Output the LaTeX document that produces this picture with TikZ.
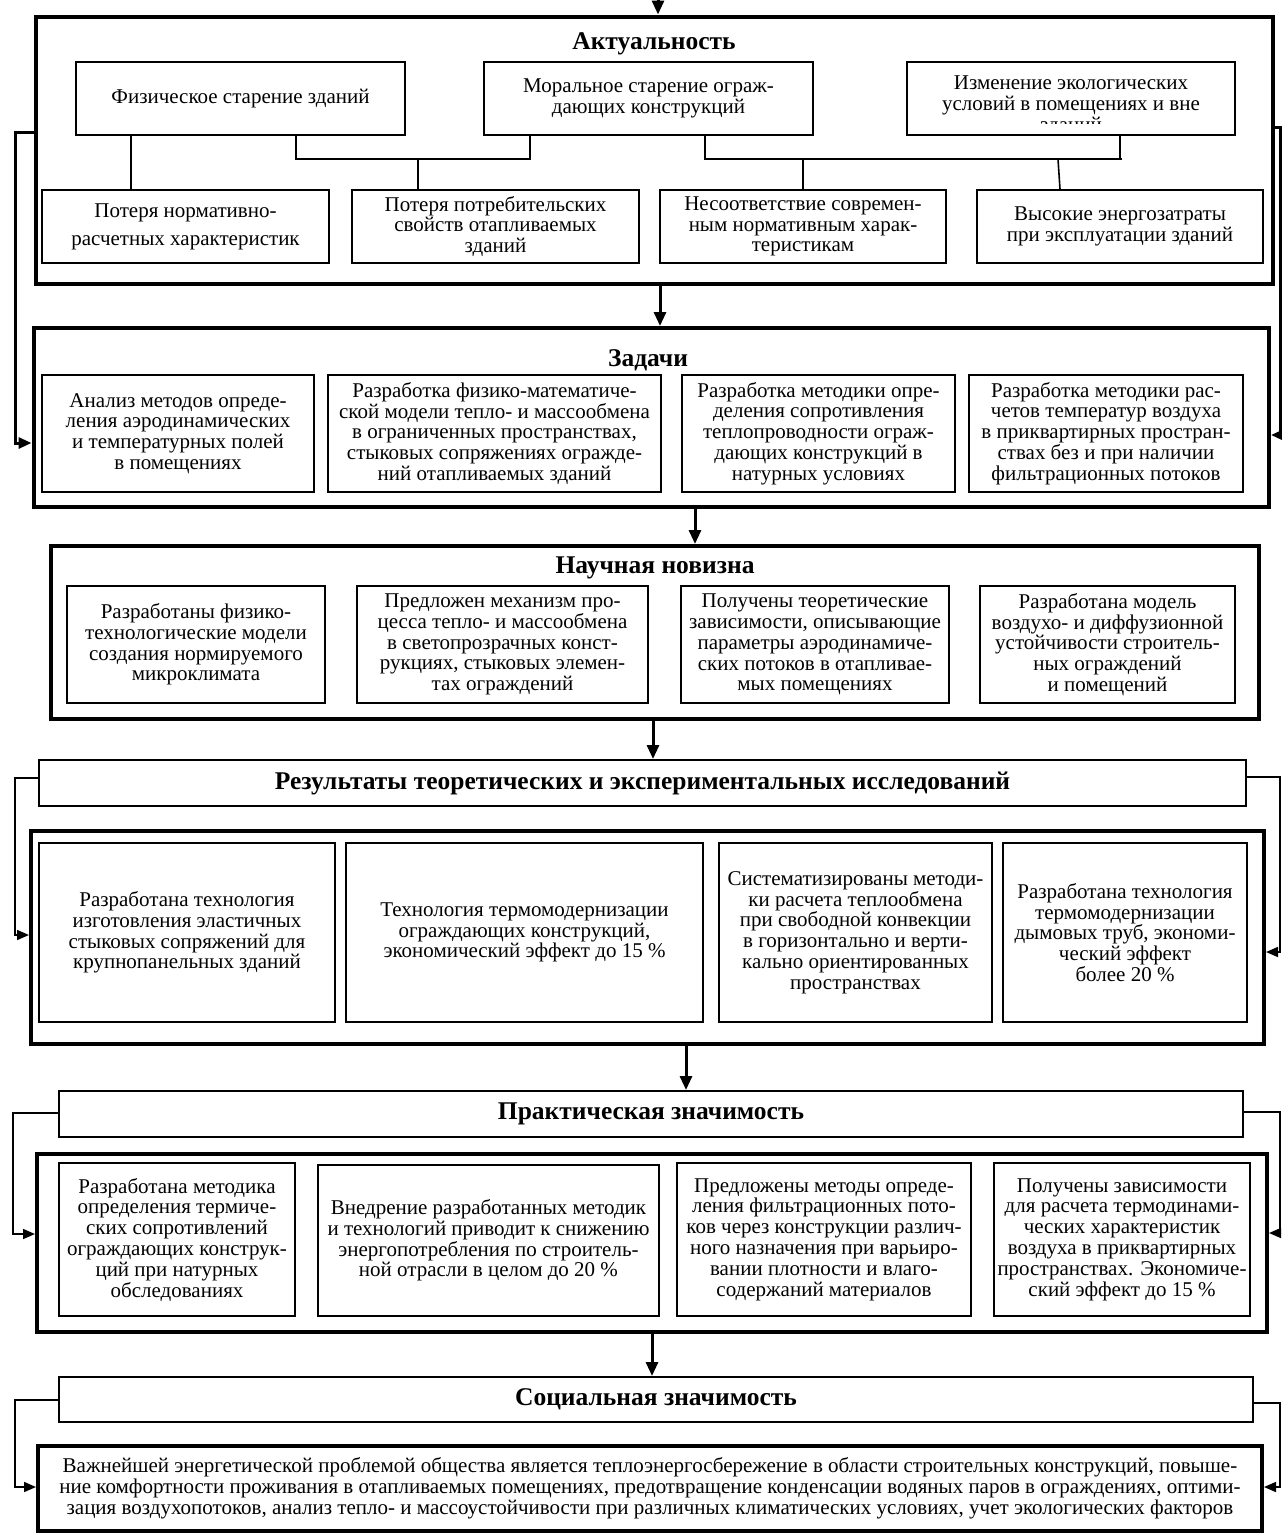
\documentclass[tikz,border=0pt]{standalone}
\usepackage{fontspec}
\setmainfont{Liberation Serif}
\usetikzlibrary{arrows.meta}
\newcommand\bxn[7]{\node[#1, minimum width={(#5-#3)*1pt}, minimum height={(#6-#4)*1pt}] (#2) at ({(#3+#5)/2},{(#4+#6)/2}) {#7};}
\begin{document}
\begin{tikzpicture}[x=1pt,y=-1pt,
  every node/.style={font=\fontsize{21}{20.8}\selectfont, inner sep=0pt, align=center},
  outerbox/.style={draw, line width=4pt},
  innerbox/.style={draw, line width=2pt},
  headbox/.style={draw, line width=2pt, font=\fontsize{25.5}{26}\selectfont\bfseries},
  ttl/.style={font=\fontsize{25.5}{26}\selectfont\bfseries},
  tree/.style={line width=1.6pt},
  varrow/.style={line width=3pt, -{Triangle[width=12pt,length=14pt]}},
  sidethick/.style={line width=3pt, -{Triangle[width=11pt,length=13pt]}},
  sidethin/.style={line width=1.6pt, -{Triangle[width=10pt,length=12pt]}}]
\useasboundingbox (0,0) rectangle (1282,1534);

% ---------- Актуальность ----------
\bxn{outerbox}{b1}{35.5}{16.5}{1273}{284}{}
\node[ttl] (t1) at (654,44) {Актуальность};
\bxn{innerbox}{phys}{76}{62}{405}{135}{Физическое старение зданий}
\bxn{innerbox}{mor}{484}{62}{813}{135}{Моральное старение ограж-\\дающих конструкций}
\begin{scope}
  \clip (908,63) rectangle (1234,123);
  \node[anchor=north] (izmtxt) at (1071,76) {Изменение экологических\\условий в помещениях и вне\\зданий};
\end{scope}
\bxn{innerbox}{izm}{907}{62}{1235}{135}{}
\bxn{innerbox}{pn}{42}{190}{329}{263}{Потеря нормативно-\\[7pt]расчетных характеристик}
\bxn{innerbox}{pp}{352}{190}{639}{263}{Потеря потребительских\\свойств отапливаемых\\зданий}
\bxn{innerbox}{ns}{660}{190}{946}{263}{Несоответствие современ-\\ным нормативным харак-\\теристикам}
\bxn{innerbox}{ve}{977}{190}{1263}{263}{Высокие энергозатраты\\при эксплуатации зданий}

\draw[tree] (phys.south -| 131,0) -- (pn.north -| 131,0);
\coordinate (busA) at (418,159);
\draw[tree] (phys.south -| 296,0) |- (busA) -| (mor.south -| 530,0);
\draw[tree] (busA) -- (pp.north -| busA);
\coordinate (busB) at (803,159);
\draw[tree] (mor.south -| 705,0) |- (busB) -- (busB -| 1122,0);
\draw[tree] (izm.south -| 1120,0) -- (busB -| 1120,0);
\draw[tree] (busB) -- (ns.north -| busB);
\draw[tree] (busB -| 1058,0) -- (ve.north -| 1060,0);

% ---------- Задачи ----------
\bxn{outerbox}{b2}{33.5}{328}{1269}{507}{}
\node[ttl] (t2) at (648,360) {Задачи};
\bxn{innerbox}{z1}{42}{375}{314}{492}{Анализ методов опреде-\\ления аэродинамических\\и температурных полей\\в помещениях}
\bxn{innerbox}{z2}{328}{375}{661}{492}{Разработка физико-математиче-\\ской модели тепло- и массообмена\\в ограниченных пространствах,\\стыковых сопряжениях огражде-\\ний отапливаемых зданий}
\bxn{innerbox}{z3}{682}{375}{955}{492}{Разработка методики опре-\\деления сопротивления\\теплопроводности ограж-\\дающих конструкций в\\натурных условиях}
\bxn{innerbox}{z4}{969}{375}{1243}{492}{Разработка методики рас-\\четов температур воздуха\\в приквартирных простран-\\ствах без и при наличии\\фильтрационных потоков}

% ---------- Научная новизна ----------
\bxn{outerbox}{b3}{51}{546}{1259}{719}{}
\node[ttl] (t3) at (655,568) {Научная новизна};
\bxn{innerbox}{n1}{67}{586}{325}{703}{Разработаны физико-\\технологические модели\\создания нормируемого\\микроклимата}
\bxn{innerbox}{n2}{357}{586}{648}{703}{Предложен механизм про-\\цесса тепло- и массообмена\\в светопрозрачных конст-\\рукциях, стыковых элемен-\\тах ограждений}
\bxn{innerbox}{n3}{681}{586}{949}{703}{Получены теоретические\\зависимости, описывающие\\параметры аэродинамиче-\\ских потоков в отапливае-\\мых помещениях}
\bxn{innerbox}{n4}{980}{586}{1235}{703}{Разработана модель\\воздухо- и диффузионной\\устойчивости строитель-\\ных ограждений\\и помещений}

% ---------- Результаты ----------
\bxn{headbox}{h4}{39}{760}{1246}{806}{Результаты теоретических и экспериментальных исследований}
\bxn{outerbox}{b5}{31}{831}{1264}{1044}{}
\bxn{innerbox}{r1}{39}{843}{335}{1022}{Разработана технология\\изготовления эластичных\\стыковых сопряжений для\\крупнопанельных зданий}
\bxn{innerbox}{r2}{346}{843}{703}{1022}{Технология термомодернизации\\ограждающих конструкций,\\экономический эффект до 15~\%}
\bxn{innerbox}{r3}{719}{843}{992}{1022}{Систематизированы методи-\\ки расчета теплообмена\\при свободной конвекции\\в горизонтально и верти-\\кально ориентированных\\пространствах}
\bxn{innerbox}{r4}{1003}{843}{1247}{1022}{Разработана технология\\термомодернизации\\дымовых труб, экономи-\\ческий эффект\\более 20~\%}

% ---------- Практическая значимость ----------
\bxn{headbox}{h6}{59}{1091}{1243}{1137}{Практическая значимость}
\bxn{outerbox}{b7}{37}{1154}{1267}{1332}{}
\bxn{innerbox}{p1}{59}{1163}{295}{1316}{Разработана методика\\определения термиче-\\ских сопротивлений\\ограждающих конструк-\\ций при натурных\\обследованиях}
\bxn{innerbox}{p2}{318}{1165}{659}{1316}{Внедрение разработанных методик\\и технологий приводит к снижению\\энергопотребления по строитель-\\ной отрасли в целом до 20~\%}
\bxn{innerbox}{p3}{677}{1163}{971}{1316}{Предложены методы опреде-\\ления фильтрационных пото-\\ков через конструкции различ-\\ного назначения при варьиро-\\вании плотности и влаго-\\содержаний материалов}
\bxn{innerbox}{p4}{994}{1163}{1250}{1316}{Получены зависимости\\для расчета термодинами-\\ческих характеристик\\воздуха в приквартирных\\пространствах. Экономиче-\\ский эффект до 15~\%}

% ---------- Социальная значимость ----------
\bxn{headbox}{h8}{59}{1377}{1253}{1422}{Социальная значимость}
\bxn{outerbox}{b9}{38}{1446}{1262}{1531}{Важнейшей энергетической проблемой общества является теплоэнергосбережение в области строительных конструкций, повыше-\\ние комфортности проживания в отапливаемых помещениях, предотвращение конденсации водяных паров в ограждениях, оптими-\\зация воздухопотоков, анализ тепло- и массоустойчивости при различных климатических условиях, учет экологических факторов}

% ---------- vertical arrows ----------
\coordinate (topin) at (658,0);
\draw[varrow] (topin) -- (b1.north -| topin);
\draw[varrow] (b1.south -| 660,0) -- (b2.north -| 660,0);
\draw[varrow] (b2.south -| 695,0) -- (b3.north -| 695,0);
\draw[varrow] (b3.south -| 653,0) -- (h4.north -| 653,0);
\draw[varrow] (b5.south -| 686,0) -- (h6.north -| 686,0);
\draw[varrow] (b7.south -| 652,0) -- (h8.north -| 652,0);

% ---------- side connectors ----------
\coordinate (L1) at (15,132);
\draw[sidethick] (b1.west |- L1) -- (L1) |- (b2.west |- 0,443);
\coordinate (R1) at (1280,127);
\draw[sidethick] (b1.east |- R1) -- (R1) |- (b2.east |- 0,435);
\coordinate (L2) at (15,778);
\draw[sidethin] (h4.west |- L2) -- (L2) |- (b5.west |- 0,935);
\coordinate (R2) at (1280,777);
\draw[sidethin] (h4.east |- R2) -- (R2) |- (b5.east |- 0,952);
\coordinate (L3) at (13,1113);
\draw[sidethin] (h6.west |- L3) -- (L3) |- (b7.west |- 0,1234);
\coordinate (R3) at (1280,1112);
\draw[sidethin] (h6.east |- R3) -- (R3) |- (b7.east |- 0,1233);
\coordinate (L4) at (15,1400);
\draw[sidethin] (h8.west |- L4) -- (L4) |- (b9.west |- 0,1487);
\coordinate (R4) at (1280,1403);
\draw[sidethin] (h8.east |- R4) -- (R4) |- (b9.east |- 0,1487);
\end{tikzpicture}
\end{document}
